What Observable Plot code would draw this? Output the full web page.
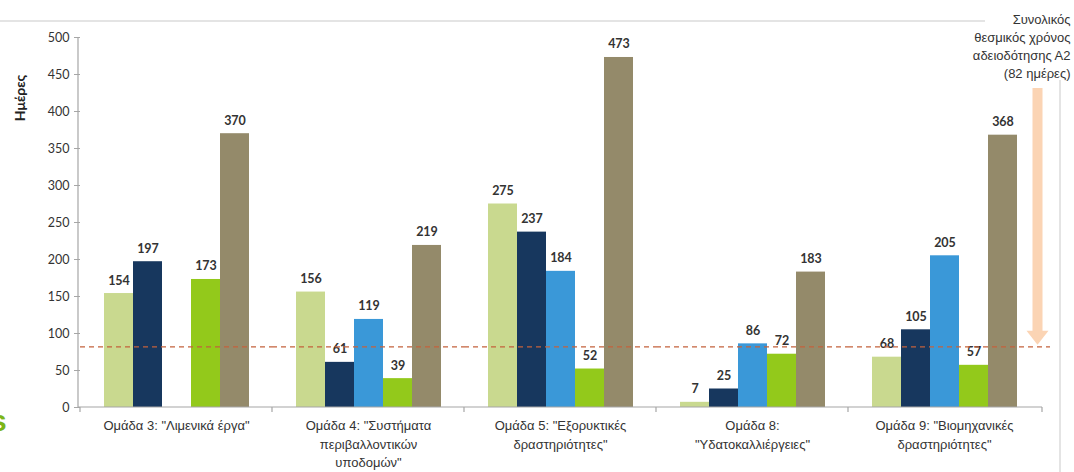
<!DOCTYPE html>
<html><head><meta charset="utf-8">
<script src="https://cdn.jsdelivr.net/npm/d3@7"></script>
<script src="https://cdn.jsdelivr.net/npm/@observablehq/plot@0.6"></script>
<style>
body{margin:0;background:#fff;}
#wrap{position:relative;width:1074px;height:472px;overflow:hidden;background:#fff;}
#wrap svg{position:absolute;left:0;top:0;}
.frameTop{position:absolute;left:0;top:20px;width:985px;height:0;border-top:2px solid #e4e4e4;}
.frameRight{position:absolute;left:1059px;top:80px;width:0;height:392px;border-left:2px solid #e4e4e4;}
.cut{position:absolute;left:-10px;top:404px;font:bold 30px "Liberation Sans";color:#7cb518;}
</style></head><body><div id="wrap"><div class="frameTop"></div><div class="frameRight"></div><div class="cut">s</div></div>
<script>
const groups = ["Ομάδα 3", "Ομάδα 4", "Ομάδα 5", "Ομάδα 8", "Ομάδα 9"];
const groupLabels = [
  "Ομάδα 3: \"Λιμενικά έργα\"",
  "Ομάδα 4: \"Συστήματα\nπεριβαλλοντικών\nυποδομών\"",
  "Ομάδα 5: \"Εξορυκτικές\nδραστηριότητες\"",
  "Ομάδα 8:\n\"Υδατοκαλλιέργειες\"",
  "Ομάδα 9: \"Βιομηχανικές\nδραστηριότητες\""
];
const series = ["Σειρά 1", "Σειρά 2", "Σειρά 3", "Σειρά 4", "Σειρά 5"];
const colors = ["#c9d98f", "#17375e", "#3a98d8", "#93c91b", "#948a6a"];
const serie1 = [154, 156, 275, 7, 68];
const serie2 = [197, 61, 237, 25, 105];
const serie3 = [null, 119, 184, 86, 205];
const serie4 = [173, 39, 52, 72, 57];
const serie5 = [370, 219, 473, 183, 368];
const yTicks = [0, 50, 100, 150, 200, 250, 300, 350, 400, 450, 500];
const threshold = 82;
const arrowTop = 431;
const yLabel = "Ημέρες";
const annotation = "Συνολικός\nθεσμικός χρόνος\nαδειοδότησης Α2\n(82 ημέρες)";

const allSeries = [serie1, serie2, serie3, serie4, serie5];
const rows = [];
groups.forEach((g, i) => allSeries.forEach((vals, j) => {
  if (vals[i] != null) rows.push({group: g, series: series[j], value: vals[i]});
}));
const last = groups[groups.length - 1];
const dashStyle = {stroke: "#c4623d", strokeDasharray: "5,4", strokeWidth: 1.3};
const arrowHead = {draw(ctx) { ctx.moveTo(-11, 0); ctx.lineTo(11, 0); ctx.lineTo(0, 14); ctx.closePath(); }};

const chart = Plot.plot({
  width: 1074, height: 472,
  marginLeft: 78, marginRight: 32, marginTop: 37, marginBottom: 65,
  style: {background: "transparent", fontFamily: "Lato"},
  fx: {domain: groups, padding: 0, label: null},
  x: {domain: series, paddingInner: 0, paddingOuter: 0.713, axis: null},
  y: {domain: [0, 500], ticks: yTicks, label: null},
  color: {domain: series, range: colors},
  marks: [
    Plot.barY(rows, {fx: "group", x: "series", y: "value", fill: "series"}),
    Plot.text(rows, {fx: "group", x: "series", y: "value", text: "value", dy: -13, fontSize: 12.5, fill: "#333", fontWeight: "bold"}),
    Plot.ruleX([last], {fx: d => d, x: null, y1: () => arrowTop, y2: () => threshold, dx: 93, insetBottom: 15, stroke: "#fbd4b4", strokeWidth: 10}),
    Plot.dot([last], {fx: d => d, y: () => threshold, dx: 93, dy: -16, symbol: arrowHead, fill: "#fbd4b4", stroke: "none"}),
    Plot.ruleY(groups.filter(g => g !== last), {fx: d => d, y: () => threshold, ...dashStyle}),
    Plot.ruleY([last], {fx: d => d, y: () => threshold, insetRight: -10, ...dashStyle}),
    Plot.axisY({ticks: yTicks, tickSize: 6, tickPadding: 5, stroke: "#a6a6a6", fill: "#333", fontSize: 12.5, label: null}),
    Plot.axisFx({anchor: "bottom", tickSize: 0, tickPadding: 10, tickFormat: d => groupLabels[groups.indexOf(d)],
      fontFamily: "Liberation Sans", fontSize: 13, lineHeight: 1.4, fill: "#333", label: null}),
    Plot.text([last], {fx: d => d, frameAnchor: "top-right", text: () => annotation, dx: 30, dy: -26, lineAnchor: "top", textAnchor: "end",
      fontFamily: "Liberation Sans", fontSize: 13, lineHeight: 1.38, fill: "#333"})
  ]
});

const svg = d3.select(chart);
const fxS = chart.scale("fx"), yS = chart.scale("y");
const xa = fxS.range[0], xb = fxS.range[1];
const g = svg.append("g").attr("stroke", "#a6a6a6").attr("stroke-width", 1.2);
g.append("line").attr("x1", xa).attr("x2", xa).attr("y1", yS.apply(0)).attr("y2", yS.apply(500));
g.append("line").attr("x1", xa).attr("x2", xb).attr("y1", yS.apply(0)).attr("y2", yS.apply(0));
groups.forEach(d => {
  const px = fxS.apply(d);
  g.append("line").attr("x1", px).attr("x2", px).attr("y1", yS.apply(0)).attr("y2", yS.apply(0) + 5);
});
g.append("line").attr("x1", xb).attr("x2", xb).attr("y1", yS.apply(0)).attr("y2", yS.apply(0) + 5);
svg.append("text").attr("transform", "translate(25,98) rotate(-90)").attr("text-anchor", "middle")
  .attr("font-family", "Lato").attr("font-weight", "bold").attr("font-size", 14).attr("fill", "#222").text(yLabel);

document.getElementById("wrap").appendChild(chart);
</script></body></html>
